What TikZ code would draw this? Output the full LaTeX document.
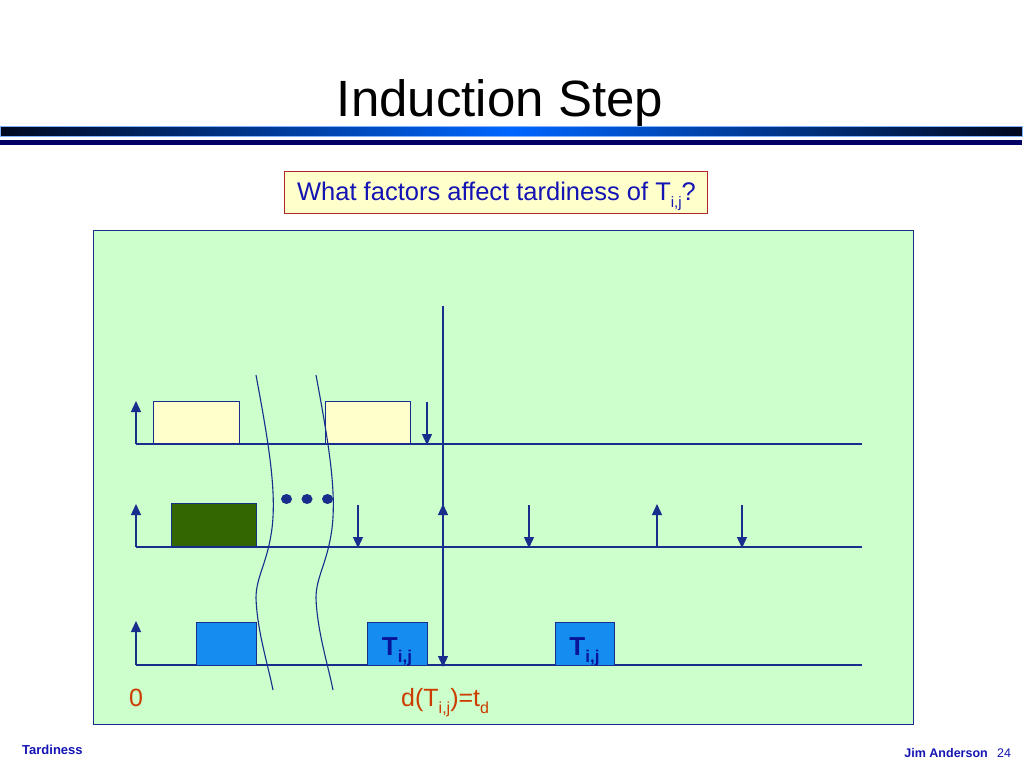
\documentclass[tikz,border=0pt]{standalone}
\usepackage{fontspec}
\setmainfont{Liberation Sans}
\usetikzlibrary{arrows.meta,shapes.geometric}
\definecolor{linec}{RGB}{25,45,140}
\definecolor{panelfill}{RGB}{204,255,204}
\definecolor{lightyel}{RGB}{255,255,204}
\definecolor{darkgr}{RGB}{51,102,0}
\definecolor{jobblue}{RGB}{20,140,240}
\definecolor{navytext}{RGB}{10,20,150}
\definecolor{qtext}{RGB}{20,20,180}
\definecolor{qborder}{RGB}{170,40,40}
\definecolor{orangetext}{RGB}{204,60,0}
\definecolor{barmid}{RGB}{0,102,255}
\definecolor{baredge}{RGB}{0,8,32}
\definecolor{thinbar}{RGB}{0,0,102}
\newcommand{\mysub}[2][14]{\raisebox{-0.3em}{\fontsize{#1}{#1}\selectfont #2}}
\begin{document}
\begin{tikzpicture}[x=1pt,y=-1pt,
  tl/.style={draw=linec,line width=1.3pt},
  arr/.style={draw=linec,line width=1.3pt,-{Triangle[length=11pt,width=10pt]}},
  jobbox/.style={draw=linec,line width=1pt,inner sep=0pt},
  wave/.style={draw=linec,line width=1.1pt},
  dot/.style={ellipse,fill=linec,minimum width=11pt,minimum height=10pt,inner sep=0pt},
  tij/.style={anchor=base,inner sep=0pt,font=\bfseries\fontsize{26}{26}\selectfont,text=navytext}]
\useasboundingbox (0,0) rectangle (1024,768);
\fill[white] (0,0) rectangle (1024,768);
% title and bars
\node[anchor=base,font=\fontsize{51}{51}\selectfont,inner sep=0pt] (title) at (500,116) {Induction Step};
\shade[left color=baredge,right color=baredge,middle color=barmid] (0,126) rectangle (1022,136);
\draw[draw=barmid!50,line width=0.6pt] (0,126) rectangle (1022,136);
\fill[thinbar] (0,140) rectangle (1022,145);
% question
\node[draw=qborder,line width=1pt,fill=lightyel,minimum width=423pt,minimum height=42pt,inner sep=0pt] (q) at (495.5,192) {};
\node[anchor=base,inner sep=0pt,text=qtext,font=\fontsize{25.5}{26}\selectfont] (qt) at (496.5,200) {What factors affect tardiness of T\mysub[15]{i,j}?};
% panel
\node[draw=linec,line width=1pt,fill=panelfill,minimum width=820pt,minimum height=494pt,inner sep=0pt] (panel) at (503.5,477) {};
% timelines
\coordinate (r1s) at (136,444); \coordinate (r1e) at (862,444);
\coordinate (r2s) at (136,547); \coordinate (r2e) at (862,547);
\coordinate (r3s) at (136,665); \coordinate (r3e) at (862,665);
\draw[tl] (r1s) -- (r1e);
\draw[tl] (r2s) -- (r2e);
\draw[tl] (r3s) -- (r3e);
% jobs
\node[jobbox,fill=lightyel,minimum width=86pt,minimum height=42pt] (a1) at (196,422) {};
\node[jobbox,fill=lightyel,minimum width=85pt,minimum height=42pt] (a2) at (367.5,422) {};
\node[jobbox,fill=darkgr,minimum width=85pt,minimum height=43pt] (b1) at (213.5,524.5) {};
\node[jobbox,fill=jobblue,minimum width=60pt,minimum height=43pt] (c1) at (226,643.5) {};
\node[jobbox,fill=jobblue,minimum width=60pt,minimum height=43pt] (c2) at (397,643.5) {};
\node[jobbox,fill=jobblue,minimum width=59pt,minimum height=43pt] (c3) at (584.5,643.5) {};
\node[tij] (c2t) at (397,655) {T\mysub[17]{i,j}};
\node[tij] (c3t) at (584.5,655) {T\mysub[17]{i,j}};
% release / deadline arrows
\coordinate (u1a) at (136,444); \coordinate (u1b) at (136,401);
\coordinate (u2a) at (136,547); \coordinate (u2b) at (136,504);
\coordinate (u3a) at (136,665); \coordinate (u3b) at (136,621);
\draw[arr] (u1a) -- (u1b);
\draw[arr] (u2a) -- (u2b);
\draw[arr] (u3a) -- (u3b);
\coordinate (d1a) at (427,402); \coordinate (d1b) at (427,445);
\draw[arr] (d1a) -- (d1b);
\coordinate (d2a) at (358,505); \coordinate (d2b) at (358,548);
\coordinate (d3a) at (529,505); \coordinate (d3b) at (529,548);
\coordinate (d4a) at (742,505); \coordinate (d4b) at (742,548);
\coordinate (u4a) at (657,547); \coordinate (u4b) at (657,504);
\coordinate (u5a) at (443,547); \coordinate (u5b) at (443,504);
\draw[arr] (d2a) -- (d2b);
\draw[arr] (d3a) -- (d3b);
\draw[arr] (d4a) -- (d4b);
\draw[arr] (u4a) -- (u4b);
\draw[arr] (u5a) -- (u5b);
% deadline vertical line
\coordinate (vt) at (443,306); \coordinate (vb) at (443,667);
\draw[arr] (vt) -- (vb);
% wavy cut lines
\draw[wave] (256,375) .. controls (268,440) and (278,495) .. (271,535)
  .. controls (266,565) and (256,578) .. (256,598) .. controls (257,630) and (268,665) .. (273,690);
\draw[wave] (316,375) .. controls (328,440) and (338,495) .. (331,535)
  .. controls (326,565) and (316,578) .. (316,598) .. controls (317,630) and (328,665) .. (333,690);
% dots
\node[dot] (e1) at (286.5,499) {};
\node[dot] (e2) at (307,499) {};
\node[dot] (e3) at (327.5,499) {};
% labels
\node[anchor=base,inner sep=0pt,text=orangetext,font=\fontsize{25}{25}\selectfont] (zero) at (136,706) {0};
\node[anchor=base west,inner sep=0pt,text=orangetext,font=\fontsize{25}{25}\selectfont] (dl) at (401,706) {d(T\mysub[16]{i,j})=t\mysub[16]{d}};
% footer
\node[anchor=base west,inner sep=0pt,text=qtext,font=\bfseries\fontsize{13}{13}\selectfont] (foot1) at (22,754) {Tardiness};
\node[anchor=base east,inner sep=0pt,text=qtext,font=\bfseries\fontsize{12.5}{13}\selectfont] (foot2) at (988,757) {Jim Anderson};
\node[anchor=base west,inner sep=0pt,text=qtext,font=\fontsize{12.5}{13}\selectfont] (foot3) at (997,757) {24};
\end{tikzpicture}
\end{document}
